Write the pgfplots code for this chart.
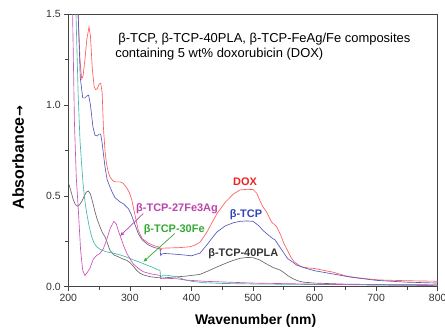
\documentclass[border=0pt]{standalone}
\usepackage{fontspec}
\setmainfont{Liberation Sans}
\newfontfamily\dejavu{DejaVu Sans}
\usepackage{pgfplots}
\pgfplotsset{compat=1.18}
\usetikzlibrary{arrows.meta}
\definecolor{cdox}{HTML}{FF5A5A}
\definecolor{ctcp}{HTML}{5555BB}
\definecolor{cpla}{HTML}{666666}
\definecolor{cag}{HTML}{CC50B8}
\definecolor{cfe}{HTML}{40B8A8}
\definecolor{lgreen}{HTML}{33AA33}
\definecolor{ldox}{HTML}{EE2222}
\definecolor{ltcp}{HTML}{3344BB}
\definecolor{lag}{HTML}{BB44AA}
\definecolor{axc}{HTML}{444444}
\begin{document}
\begin{tikzpicture}
\begin{axis}[
  at={(0,0)}, anchor=south west,
  width=369.4bp, height=272.4bp, scale only axis,
  xmin=200, xmax=800, ymin=0, ymax=1.5,
  xtick={200,300,...,800}, ytick={0,0.5,1,1.5},
  minor x tick num=1, minor y tick num=1,
  tick pos=left, tick align=outside,
  major tick length=4bp, minor tick length=3bp,
  axis line style={axc, line width=0.8pt},
  every tick/.style={axc, line width=0.7pt},
  yticklabel style={/pgf/number format/.cd, fixed, fixed zerofill, precision=1},
  /pgf/number format/assume math mode=true,
  tick label style={font=\fontsize{10.5}{12}\selectfont, text=black!80},
  xlabel={\textbf{Wavenumber (nm)}},
  ylabel={\textbf{Absorbance}\kern0.5pt{\dejavu\fontsize{13}{15}\selectfont\bfseries →}},
  every axis x label/.style={at={(axis description cs:0.507,-0.126)}, anchor=center, font=\fontsize{14}{16}\selectfont},
  every axis y label/.style={at={(axis description cs:-0.136,0.474)}, anchor=center, rotate=90, font=\fontsize{16}{18}\selectfont},
  clip=true,
]
% DOX
\addplot[cdox, line width=0.65pt] coordinates {
(210,2.0) (216,1.5) (219,1.25) (221.7,1.145) (224,1.16) (227,1.25) (230,1.36) (233.6,1.43) (236,1.38) (239,1.2) (242,1.1) (244.5,1.085) (247,1.09) (250,1.115) (252.6,1.12) (255,1.07) (257,0.88) (259.6,0.75) (262,0.678) (265,0.63) (267.7,0.604) (272,0.585) (276,0.577) (284,0.577) (289,0.57) (294.8,0.545) (299,0.52) (303,0.48) (308,0.40) (313.7,0.31) (320,0.265) (330,0.24) (340,0.225) (346,0.22) (349,0.215) (350,0.20) (352,0.212) (360,0.213) (380,0.215) (398,0.22) (405,0.228) (414,0.245) (425,0.3) (441,0.40) (455,0.465) (468,0.51) (479,0.533) (490,0.536) (500,0.535) (506,0.515) (511,0.476) (516,0.44) (522,0.412) (530,0.357) (538.5,0.33) (545,0.284) (550,0.24) (556,0.2) (562,0.16) (567,0.137) (578,0.11) (590,0.103) (600,0.1) (630,0.08) (652,0.058) (680,0.045) (706,0.037) (750,0.033) (800,0.03)
};
% beta-TCP
\addplot[ctcp, line width=0.65pt] coordinates {
(212,2.0) (216,1.5) (219.5,1.15) (223.4,1.04) (227,1.04) (230,1.05) (233,1.055) (236,1.0) (240,0.88) (243.4,0.834) (247,0.83) (250,0.84) (252.6,0.84) (255,0.79) (259.6,0.66) (263,0.59) (267.7,0.549) (272,0.515) (276,0.49) (284,0.467) (290,0.455) (297.5,0.43) (302,0.40) (308,0.345) (314,0.29) (320,0.258) (330,0.23) (340,0.215) (346,0.211) (349,0.208) (350,0.172) (352,0.18) (356,0.183) (370,0.18) (390,0.174) (400,0.17) (414,0.185) (425,0.23) (441,0.30) (455,0.335) (468,0.352) (479,0.36) (490,0.362) (500,0.36) (506,0.345) (511,0.33) (516,0.31) (522,0.293) (530,0.27) (536,0.257) (545,0.211) (556,0.156) (571,0.119) (587,0.1) (600,0.088) (630,0.07) (660,0.052) (700,0.035) (750,0.025) (800,0.02)
};
% beta-TCP-40PLA
\addplot[cpla, line width=0.65pt] coordinates {
(200,0.575) (204,0.53) (208,0.48) (211,0.455) (214.6,0.443) (218,0.45) (222,0.47) (226,0.5) (229,0.52) (232.5,0.527) (236,0.51) (240,0.46) (243.4,0.412) (247,0.37) (251.5,0.33) (255,0.3) (259.6,0.275) (263,0.245) (267.7,0.2) (274,0.175) (281,0.165) (289,0.152) (295,0.145) (300,0.133) (305.6,0.113) (311,0.09) (316,0.075) (322,0.065) (332.7,0.055) (345,0.05) (349,0.05) (350,0.046) (360,0.05) (375,0.054) (390,0.058) (400,0.062) (414,0.068) (428,0.088) (441,0.108) (455,0.128) (468,0.145) (480,0.157) (490,0.161) (500,0.16) (511,0.147) (522,0.125) (533,0.105) (544,0.092) (550,0.078) (557,0.06) (565,0.044) (573,0.032) (582,0.025) (600,0.02) (625,0.017) (650,0.014) (700,0.012) (800,0.01)
};
% beta-TCP-30Fe
\addplot[cfe, line width=0.65pt] coordinates {
(209,2.0) (212.5,1.5) (216,1.06) (219,0.806) (221.5,0.68) (224,0.568) (227,0.47) (230,0.403) (234,0.33) (238,0.275) (242,0.24) (246,0.22) (252,0.205) (262,0.192) (275,0.183) (284,0.175) (295,0.163) (305.6,0.148) (316,0.135) (327,0.12) (338,0.105) (346,0.092) (349,0.09) (350,0.05) (354,0.064) (362,0.062) (376,0.055) (390,0.037) (400,0.03) (420,0.022) (450,0.018) (500,0.015) (600,0.012) (700,0.011) (800,0.01)
};
% beta-TCP-27Fe3Ag
\addplot[cag, line width=0.65pt] coordinates {
(204,2.0) (207,1.5) (210,0.9) (213,0.6) (216,0.44) (220,0.2) (223.4,0.09) (227,0.062) (231,0.08) (235,0.1) (240.6,0.152) (246,0.172) (251.5,0.183) (257,0.21) (262,0.256) (268,0.32) (274,0.36) (278,0.345) (281,0.311) (286.7,0.256) (290,0.225) (294.8,0.185) (300,0.155) (305.6,0.125) (314,0.1) (322,0.082) (335,0.07) (346,0.064) (349,0.062) (350,0.046) (360,0.046) (376,0.044) (390,0.037) (420,0.03) (460,0.025) (500,0.02) (600,0.014) (700,0.009) (800,0.006)
};
% annotations
\node[anchor=west, inner sep=0pt, font=\fontsize{13}{15}\selectfont] at (axis cs:281,1.365) {β-TCP, β-TCP-40PLA, β-TCP-FeAg/Fe composites};
\node[anchor=west, inner sep=0pt, font=\fontsize{13}{15}\selectfont] at (axis cs:276,1.282) {containing 5 wt\% doxorubicin (DOX)};
\node[font=\fontsize{11}{13}\selectfont\bfseries, text=ldox] at (axis cs:487,0.577) {DOX};
\node[font=\fontsize{11}{13}\selectfont\bfseries, text=ltcp] at (axis cs:488.6,0.398) {β-TCP};
\node[font=\fontsize{11}{13}\selectfont\bfseries, text=black!80] at (axis cs:484.3,0.183) {β-TCP-40PLA};
\node[font=\fontsize{11}{13}\selectfont\bfseries, text=lag] at (axis cs:376.6,0.43) {β-TCP-27Fe3Ag};
\node[font=\fontsize{11}{13}\selectfont\bfseries, text=lgreen] at (axis cs:372,0.315) {β-TCP-30Fe};
\draw[lag, line width=0.7pt, -{Latex[length=4pt,width=3.5pt]}] (axis cs:321.8,0.403) -- (axis cs:284,0.279);
\draw[lgreen, line width=0.7pt, -{Latex[length=4pt,width=3.5pt]}] (axis cs:373,0.293) -- (axis cs:321.8,0.137);
\end{axis}
\pgfresetboundingbox
\path[use as bounding box] (-68.3bp,-41.3bp) rectangle (376.7bp,286.7bp);
\end{tikzpicture}
\end{document}
